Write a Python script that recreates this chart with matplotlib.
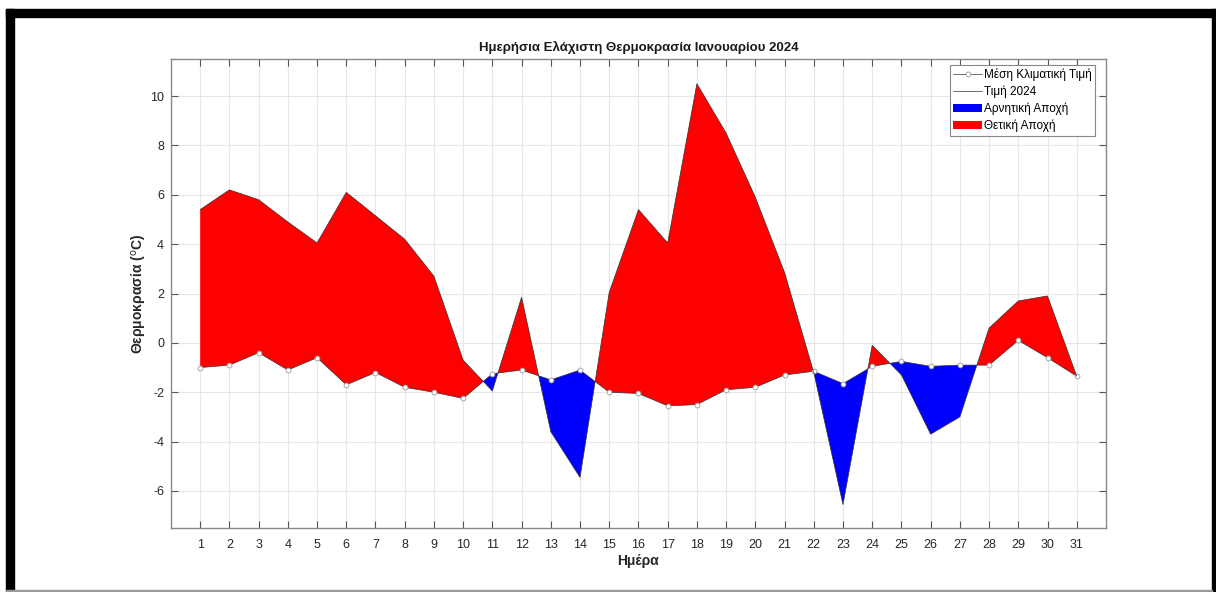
import matplotlib
matplotlib.use("Agg")
import matplotlib.pyplot as plt
import numpy as np
from matplotlib.patches import Rectangle

plt.rcParams['font.family'] = ['Liberation Sans', 'DejaVu Sans']
plt.rcParams['axes.unicode_minus'] = False

days = list(range(1, 32))
climate_mean = [-1.0, -0.9, -0.4, -1.1, -0.6, -1.7, -1.2, -1.8, -2.0, -2.25,
                -1.25, -1.1, -1.5, -1.1, -2.0, -2.05, -2.55, -2.5, -1.9, -1.8,
                -1.3, -1.15, -1.65, -0.95, -0.75, -0.95, -0.9, -0.9, 0.1, -0.6,
                -1.35]
value_2024 = [5.4, 6.2, 5.8, 4.9, 4.05, 6.1, 5.15, 4.2, 2.7, -0.7,
              -1.95, 1.85, -3.6, -5.45, 2.05, 5.4, 4.05, 10.5, 8.5, 5.9,
              2.85, -1.2, -6.55, -0.1, -1.3, -3.7, -3.0, 0.6, 1.7, 1.9,
              -1.35]

title = 'Ημερήσια Ελάχιστη Θερμοκρασία Ιανουαρίου 2024'
xlabel = 'Ημέρα'
ylabel = 'Θερμοκρασία ($^{\\mathrm{o}}$C)'
legend_labels = ['Μέση Κλιματική Τιμή', 'Τιμή 2024', 'Αρνητική Αποχή', 'Θετική Αποχή']

fig = plt.figure(figsize=(12.16, 5.92), dpi=100)
ax = fig.add_axes([0.1406, 0.1081, 0.7689, 0.7922])

x = np.array(days, dtype=float)
m = np.array(climate_mean)
v = np.array(value_2024)

neg = ax.fill_between(x, m, v, where=v < m, interpolate=True, color='#0000ff',
                      edgecolor='none', linewidth=0, zorder=2)
pos = ax.fill_between(x, m, v, where=v >= m, interpolate=True, color='#ff0000',
                      edgecolor='none', linewidth=0, zorder=2)
l1, = ax.plot(x, m, '-o', color='#333333', linewidth=0.5, markersize=3.5,
              markerfacecolor='white', markeredgecolor='#999999',
              markeredgewidth=0.6, zorder=3)
l2, = ax.plot(x, v, '-', color='#333333', linewidth=0.5, zorder=3)

ax.set_xlim(0, 32)
ax.set_ylim(-7.5, 11.5)
ax.set_xticks(days)
ax.set_yticks(np.arange(-6, 11, 2))
ax.grid(True, color='#e6e6e6', linewidth=0.8, zorder=0)
ax.set_axisbelow(True)
ax.tick_params(direction='in', length=5, width=0.8, color='#555555',
               labelsize=9, labelcolor='#262626', top=True, right=True)
ax.tick_params(axis='y', pad=5)
ax.tick_params(axis='x', pad=8)
for s in ax.spines.values():
    s.set_color('#888888')
    s.set_linewidth(1.0)

ax.set_title(title, fontsize=9.5, fontweight='bold', color='#1a1a1a', pad=6)
ax.set_xlabel(xlabel, fontsize=10, fontweight='bold', color='#262626', labelpad=2)
ax.set_ylabel(ylabel, fontsize=10, fontweight='bold', color='#262626', labelpad=1)

leg = ax.legend([l1, l2, neg, pos], legend_labels, loc='upper right',
                fontsize=8.5, frameon=True, fancybox=False, framealpha=1,
                edgecolor='#888888', borderpad=0.3, labelspacing=0.38,
                handlelength=2.4, handletextpad=0.2, borderaxespad=0.3,
                bbox_to_anchor=(0.9925, 0.995))
leg.get_frame().set_linewidth(0.8)

# black frame borders of the screenshot
fig.patches.append(Rectangle((0.005, 1 - 17 / 592), 0.995, 8 / 592,
                             transform=fig.transFigure, color='black', zorder=10))
fig.patches.append(Rectangle((6 / 1216, 0), 8 / 1216, 1 - 9 / 592,
                             transform=fig.transFigure, color='black', zorder=10))
fig.patches.append(Rectangle((1212 / 1216, 0), 4 / 1216, 1 - 9 / 592,
                             transform=fig.transFigure, color='black', zorder=10))
fig.patches.append(Rectangle((6 / 1216, 0), 1206 / 1216, 2 / 592,
                             transform=fig.transFigure, color='#999999', zorder=10))

fig.savefig('out.png', dpi=100)
